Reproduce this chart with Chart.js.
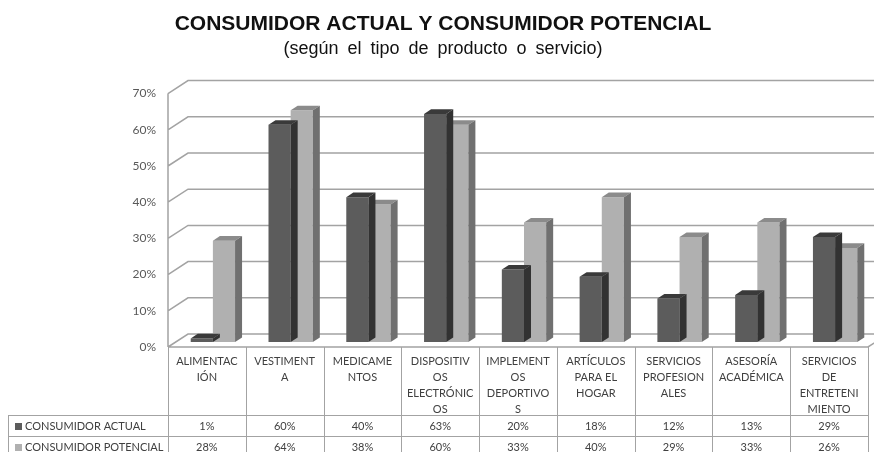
<!DOCTYPE html>
<html lang="es">
<head>
<meta charset="utf-8">
<title>Consumidor actual y consumidor potencial</title>
<script src="https://cdn.jsdelivr.net/npm/chart.js@4.4.1/dist/chart.umd.min.js"></script>
<style>
  html, body { margin: 0; padding: 0; background: #fff; }
  #wrap { position: relative; width: 874px; height: 452px; }
</style>
</head>
<body>
<div id="wrap"><canvas id="chart"></canvas></div>
<script>
const categories = [
  "ALIMENTACIÓN", "VESTIMENTA", "MEDICAMENTOS", "DISPOSITIVOS ELECTRÓNICOS",
  "IMPLEMENTOS DEPORTIVOS", "ARTÍCULOS PARA EL HOGAR", "SERVICIOS PROFESIONALES",
  "ASESORÍA ACADÉMICA", "SERVICIOS DE ENTRETENIMIENTO",
];
// same labels, broken the way the table cells wrap them
const categoryLines = [
  ["ALIMENTAC", "IÓN"],
  ["VESTIMENT", "A"],
  ["MEDICAME", "NTOS"],
  ["DISPOSITIV", "OS", "ELECTRÓNIC", "OS"],
  ["IMPLEMENT", "OS", "DEPORTIVO", "S"],
  ["ARTÍCULOS", "PARA EL", "HOGAR"],
  ["SERVICIOS", "PROFESION", "ALES"],
  ["ASESORÍA", "ACADÉMICA"],
  ["SERVICIOS", "DE", "ENTRETENI", "MIENTO"],
];
const consumidorActual = [1, 60, 40, 63, 20, 18, 12, 13, 29];
const consumidorPotencial = [28, 64, 38, 60, 33, 40, 29, 33, 26];
const seriesNames = ["CONSUMIDOR ACTUAL", "CONSUMIDOR POTENCIAL"];
const yMax = 70;
const yStep = 10;

const TITLE = "CONSUMIDOR ACTUAL Y CONSUMIDOR POTENCIAL";
const SUBTITLE = "(según el tipo de producto o servicio)";

const FONT = "Lato, 'Liberation Sans', sans-serif";
const GRID = "#a3a3a3";
const TEXT = "#404040";

// fake 3d: the bars sit a bit behind the front edge of the floor
const FRONT = { dx: -6, dy: 5 };
const BACK = { dx: 14, dy: -8 };
const BAR_DX = 7;
const BAR_DY = 4.6;

const faces = [
  { front: "#5c5c5c", top: "#3a3a3a", side: "#323232" },
  { front: "#b0b0b0", top: "#8b8b8b", side: "#707070" },
];

function poly(ctx, pts, color) {
  ctx.fillStyle = color;
  ctx.beginPath();
  ctx.moveTo(pts[0][0], pts[0][1]);
  for (let i = 1; i < pts.length; i++) ctx.lineTo(pts[i][0], pts[i][1]);
  ctx.closePath();
  ctx.fill();
}

const walls = {
  id: "walls",
  beforeDatasetsDraw(chart) {
    const { ctx, chartArea: a, scales: { y } } = chart;
    const fx = a.left + FRONT.dx;
    const bx = a.left + BACK.dx;
    const y0 = y.getPixelForValue(0);
    const yTop = y.getPixelForValue(yMax);
    const rx = a.right + FRONT.dx;

    ctx.save();
    ctx.strokeStyle = GRID;
    ctx.lineWidth = 1.5;
    ctx.beginPath();
    y.ticks.forEach((t) => {
      const py = y.getPixelForValue(t.value);
      ctx.moveTo(fx, py + FRONT.dy);
      ctx.lineTo(bx, py + BACK.dy);
      ctx.lineTo(chart.width + 30, py + BACK.dy);
    });
    // side wall front edge
    ctx.moveTo(fx, y0 + FRONT.dy);
    ctx.lineTo(fx, yTop + FRONT.dy);
    // floor front + right edge
    ctx.moveTo(fx, y0 + FRONT.dy);
    ctx.lineTo(rx, y0 + FRONT.dy);
    ctx.lineTo(rx + (BACK.dx - FRONT.dx), y0 + BACK.dy);
    ctx.stroke();
    ctx.restore();
  },
};

const bars3d = {
  id: "bars3d",
  afterDatasetDraw(chart, args) {
    const ctx = chart.ctx;
    const f = faces[args.index];
    args.meta.data.forEach((bar) => {
      const { x, y, base, width } = bar.getProps(["x", "y", "base", "width"], true);
      const l = x - width / 2;
      const r = x + width / 2;
      poly(ctx, [[l, y], [l + BAR_DX, y - BAR_DY], [r + BAR_DX, y - BAR_DY], [r, y]], f.top);
      poly(ctx, [[r, y], [r + BAR_DX, y - BAR_DY], [r + BAR_DX, base - BAR_DY], [r, base]], f.side);
    });
  },
};

const dataTable = {
  id: "dataTable",
  afterDraw(chart) {
    const { ctx, chartArea: a, scales: { x, y } } = chart;
    const colW = a.width / categories.length;
    const top = y.getPixelForValue(0) + FRONT.dy;
    const left = a.left + FRONT.dx;
    const right = a.right + FRONT.dx;
    const row1 = 415;
    const rowH = 21;
    const legendLeft = 8;

    ctx.save();
    ctx.strokeStyle = GRID;
    ctx.lineWidth = 1;
    ctx.beginPath();
    for (let i = 0; i <= categories.length; i++) {
      const px = Math.round(left + i * colW) + 0.5;
      ctx.moveTo(px, top);
      ctx.lineTo(px, chart.height + 5);
    }
    ctx.moveTo(legendLeft + 0.5, row1);
    ctx.lineTo(legendLeft + 0.5, chart.height + 5);
    ctx.moveTo(legendLeft, row1 + 0.5);
    ctx.lineTo(right, row1 + 0.5);
    ctx.moveTo(legendLeft, row1 + rowH + 0.5);
    ctx.lineTo(right, row1 + rowH + 0.5);
    ctx.stroke();

    ctx.fillStyle = TEXT;
    ctx.font = "11px " + FONT;
    ctx.textAlign = "center";
    ctx.textBaseline = "middle";
    categoryLines.forEach((lines, i) => {
      const cx = x.getPixelForValue(i) + FRONT.dx;
      lines.forEach((s, j) => ctx.fillText(s, cx, 361 + j * 16));
      ctx.fillText(consumidorActual[i] + "%", cx, row1 + rowH / 2 + 1);
      ctx.fillText(consumidorPotencial[i] + "%", cx, row1 + rowH * 1.5 + 1);
    });

    ctx.textAlign = "left";
    seriesNames.forEach((name, k) => {
      const cy = row1 + rowH * (k + 0.5) + 1;
      ctx.fillStyle = faces[k].front;
      ctx.fillRect(15, cy - 3.5, 7, 7);
      ctx.fillStyle = TEXT;
      ctx.fillText(name, 25, cy);
    });

    // titles
    ctx.fillStyle = "#111";
    ctx.textAlign = "center";
    ctx.textBaseline = "alphabetic";
    ctx.font = "bold 21px 'Liberation Sans', Arial, sans-serif";
    ctx.fillText(TITLE, chart.width / 2 + 6, 30);
    ctx.font = "18px 'Liberation Sans', Arial, sans-serif";
    ctx.wordSpacing = "4px";
    ctx.fillText(SUBTITLE, chart.width / 2 + 6, 54);
    ctx.restore();
  },
};

new Chart(document.getElementById("chart"), {
  type: "bar",
  data: {
    labels: categories,
    datasets: [
      {
        label: seriesNames[0],
        data: consumidorActual,
        backgroundColor: faces[0].front,
        borderWidth: 0,
      },
      {
        label: seriesNames[1],
        data: consumidorPotencial,
        backgroundColor: faces[1].front,
        borderWidth: 0,
      },
    ],
  },
  options: {
    responsive: true,
    maintainAspectRatio: false,
    animation: false,
    layout: { padding: { top: 88.6, bottom: 110, left: 0, right: 0 } },
    datasets: { bar: { categoryPercentage: 0.57, barPercentage: 1 } },
    plugins: {
      legend: { display: false },
      tooltip: { enabled: false },
    },
    scales: {
      x: { display: false },
      y: {
        min: 0,
        max: yMax,
        afterFit: (scale) => { scale.width = 174; },
        grid: { display: false, drawTicks: false },
        border: { display: false },
        ticks: {
          stepSize: yStep,
          padding: 18,
          labelOffset: 5,
          color: "#595959",
          font: { family: FONT, size: 12 },
          callback: (v) => v + "%",
        },
      },
    },
  },
  plugins: [walls, bars3d, dataTable],
});
</script>
</body>
</html>
